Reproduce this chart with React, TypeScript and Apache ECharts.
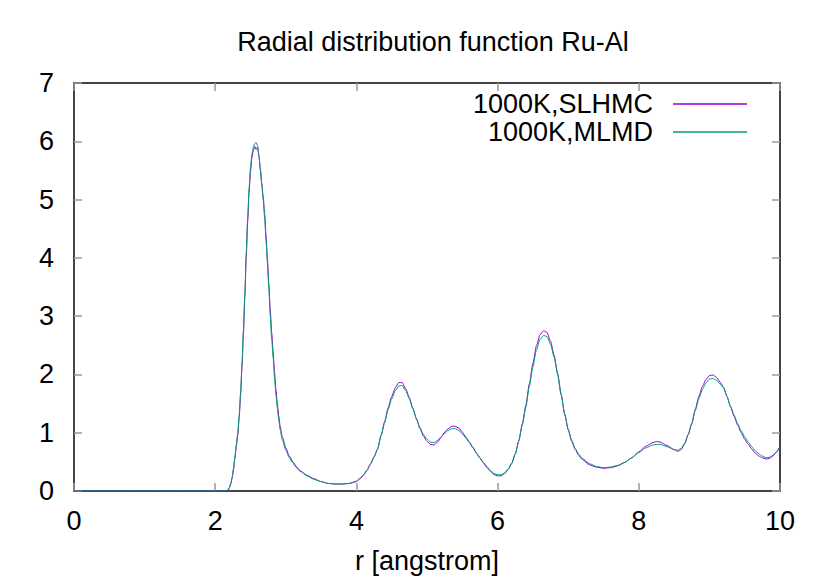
import React, { useEffect, useRef } from "react";
import * as echarts from "echarts";

const titleText = "Radial distribution function Ru-Al";
const xName = "r [angstrom]";
const seriesNames = ["1000K,SLHMC", "1000K,MLMD"];

const rValues = [
  0, 0.5, 1.0, 1.5, 2.0, 2.1, 2.15, 2.18, 2.2, 2.22, 2.24, 2.26, 2.28, 2.3, 2.32, 2.34, 2.36, 2.38,
  2.4, 2.42, 2.44, 2.46, 2.48, 2.5, 2.52, 2.54, 2.56, 2.58, 2.6, 2.62, 2.64, 2.66, 2.68, 2.7,
  2.72, 2.74, 2.76, 2.78, 2.8, 2.82, 2.84, 2.86, 2.88, 2.9, 2.92, 2.95, 3.0, 3.05, 3.1, 3.15,
  3.2, 3.3, 3.4, 3.5, 3.6, 3.7, 3.8, 3.9, 4.0, 4.05, 4.1, 4.15, 4.2, 4.25, 4.3, 4.35, 4.4, 4.45,
  4.5, 4.55, 4.6, 4.65, 4.7, 4.75, 4.8, 4.85, 4.9, 4.95, 5.0, 5.05, 5.1, 5.15, 5.2, 5.25, 5.3,
  5.35, 5.4, 5.45, 5.5, 5.55, 5.6, 5.65, 5.7, 5.75, 5.8, 5.85, 5.9, 5.95, 6.0, 6.05, 6.1, 6.15,
  6.2, 6.25, 6.3, 6.35, 6.4, 6.45, 6.5, 6.55, 6.6, 6.65, 6.7, 6.75, 6.8, 6.85, 6.9, 6.95, 7.0,
  7.05, 7.1, 7.15, 7.2, 7.3, 7.4, 7.5, 7.6, 7.7, 7.8, 7.9, 8.0, 8.1, 8.2, 8.25, 8.3, 8.4, 8.5,
  8.55, 8.6, 8.65, 8.7, 8.75, 8.8, 8.85, 8.9, 8.95, 9.0, 9.05, 9.1, 9.15, 9.2, 9.25, 9.3, 9.35,
  9.4, 9.45, 9.5, 9.55, 9.6, 9.65, 9.7, 9.75, 9.8, 9.85, 9.9, 9.95, 10.0,
];

const gMLMD = [
  0, 0, 0, 0, 0, 0, 0, 0.02, 0.06, 0.13, 0.24, 0.4, 0.6, 0.8, 1.0, 1.3, 1.7, 2.2,
  2.76, 3.4, 4.1, 4.7, 5.2, 5.55, 5.78, 5.9, 5.96, 5.98, 5.92, 5.75, 5.5, 5.25, 5.0, 4.7,
  4.3, 3.9, 3.45, 3.0, 2.62, 2.3, 1.95, 1.65, 1.42, 1.22, 1.05, 0.88, 0.7, 0.57, 0.48, 0.4,
  0.34, 0.26, 0.2, 0.16, 0.13, 0.12, 0.12, 0.13, 0.17, 0.22, 0.28, 0.36, 0.47, 0.59, 0.72, 0.95, 1.17, 1.4,
  1.58, 1.72, 1.8, 1.81, 1.72, 1.58, 1.41, 1.24, 1.09, 0.97, 0.89, 0.84, 0.83, 0.87, 0.93, 0.99, 1.04,
  1.07, 1.07, 1.04, 0.98, 0.91, 0.83, 0.74, 0.65, 0.57, 0.49, 0.42, 0.35, 0.3, 0.28, 0.28, 0.31, 0.38,
  0.48, 0.64, 0.86, 1.13, 1.44, 1.8, 2.13, 2.42, 2.6, 2.67, 2.65, 2.52, 2.3, 2.0, 1.65, 1.32, 1.06,
  0.87, 0.73, 0.63, 0.56, 0.47, 0.42, 0.4, 0.41, 0.44, 0.49, 0.57, 0.66, 0.74, 0.79, 0.8, 0.8, 0.76, 0.71,
  0.7, 0.73, 0.82, 0.97, 1.15, 1.38, 1.58, 1.74, 1.85, 1.92, 1.93, 1.9, 1.84, 1.77, 1.62, 1.45, 1.3,
  1.16, 1.03, 0.93, 0.84, 0.76, 0.69, 0.64, 0.6, 0.57, 0.58, 0.61, 0.67, 0.76,
];

const gSLHMC = [
  0, 0, 0, 0, 0, 0, 0, 0.01, 0.05, 0.12, 0.22, 0.37, 0.57, 0.78, 0.97, 1.26, 1.65, 2.14,
  2.7, 3.33, 4.02, 4.62, 5.12, 5.48, 5.72, 5.84, 5.91, 5.86, 5.9, 5.74, 5.52, 5.28, 5.04, 4.76,
  4.38, 3.98, 3.55, 3.1, 2.72, 2.39, 2.04, 1.74, 1.5, 1.29, 1.11, 0.93, 0.74, 0.6, 0.5, 0.42,
  0.35, 0.27, 0.21, 0.16, 0.13, 0.12, 0.12, 0.13, 0.16, 0.21, 0.27, 0.35, 0.46, 0.58, 0.72, 0.96, 1.19, 1.43,
  1.62, 1.77, 1.86, 1.86, 1.75, 1.6, 1.42, 1.24, 1.07, 0.94, 0.85, 0.8, 0.79, 0.84, 0.92, 1.01, 1.07,
  1.11, 1.11, 1.08, 1.01, 0.93, 0.84, 0.75, 0.65, 0.56, 0.48, 0.4, 0.34, 0.28, 0.26, 0.26, 0.3, 0.37,
  0.47, 0.63, 0.86, 1.15, 1.47, 1.84, 2.19, 2.49, 2.68, 2.75, 2.72, 2.57, 2.33, 2.02, 1.66, 1.32, 1.05,
  0.85, 0.71, 0.61, 0.54, 0.45, 0.41, 0.39, 0.4, 0.43, 0.49, 0.57, 0.67, 0.77, 0.83, 0.85, 0.84, 0.78, 0.71,
  0.68, 0.71, 0.81, 0.97, 1.16, 1.4, 1.62, 1.79, 1.91, 1.98, 1.99, 1.95, 1.87, 1.78, 1.62, 1.44, 1.28,
  1.13, 1.0, 0.89, 0.8, 0.72, 0.65, 0.6, 0.57, 0.55, 0.56, 0.6, 0.67, 0.77,
];

const xTicks = { min: 0, max: 10, interval: 2 };
const yTicks = { min: 0, max: 7, interval: 1 };

const FONT = "'Liberation Sans', Arial, Helvetica, sans-serif";
const FS = 27;

export default function App() {
  const ref = useRef<HTMLDivElement>(null);
  useEffect(() => {
    if (!ref.current) return;
    const chart = echarts.init(ref.current, null, { renderer: "svg" });
    const mk = (g: number[]) => rValues.map((r, i) => [r, g[i]]);
    const mkLine = () => ({ show: true, onZero: false, lineStyle: { color: "#444", width: 2 } });
    const mkTick = () => ({ show: true, inside: true, length: 8, lineStyle: { color: "#999", width: 1.5 } });
    chart.setOption({
      animation: false,
      backgroundColor: "#ffffff",
      textStyle: { fontFamily: FONT },
      title: {
        text: titleText,
        left: 433,
        textAlign: "center",
        top: 28,
        padding: 0,
        textStyle: { fontFamily: FONT, fontSize: FS, fontWeight: "normal", color: "#000" },
      },
      legend: {
        orient: "vertical",
        right: 83,
        top: 90,
        padding: 0,
        itemGap: 0,
        align: "right",
        icon: "rect",
        itemWidth: 74,
        itemHeight: 1.5,
        data: seriesNames,
        textStyle: {
          fontFamily: FONT,
          fontSize: FS,
          color: "#000",
          lineHeight: 28,
          padding: [0, 15, 0, 0],
        },
      },
      grid: { left: 74, right: 50, top: 83, bottom: 90 },
      xAxis: [
        {
          type: "value",
          gridIndex: 0,
          ...xTicks,
          position: "bottom",
          axisLine: mkLine(),
          axisTick: mkTick(),
          splitLine: { show: false },
          axisLabel: { fontFamily: FONT, fontSize: FS, color: "#000", margin: 16 },
          name: xName,
          nameLocation: "middle",
          nameGap: 56,
          nameTextStyle: { fontFamily: FONT, fontSize: FS, color: "#000" },
        },
        {
          type: "value",
          gridIndex: 0,
          ...xTicks,
          position: "top",
          axisLine: mkLine(),
          axisTick: mkTick(),
          splitLine: { show: false },
          axisLabel: { show: false },
        },
      ],
      yAxis: [
        {
          type: "value",
          gridIndex: 0,
          ...yTicks,
          position: "left",
          axisLine: mkLine(),
          axisTick: mkTick(),
          splitLine: { show: false },
          axisLabel: { fontFamily: FONT, fontSize: FS, color: "#000", margin: 20 },
        },
        {
          type: "value",
          gridIndex: 0,
          ...yTicks,
          position: "right",
          axisLine: mkLine(),
          axisTick: mkTick(),
          splitLine: { show: false },
          axisLabel: { show: false },
        },
      ],
      series: [
        {
          name: seriesNames[0],
          type: "line",
          data: mk(gSLHMC),
          showSymbol: false,
          smooth: 0.2,
          smoothMonotone: "x",
          color: "#9400d3",
          lineStyle: { width: 1, color: "#9400d3" },
        },
        {
          name: seriesNames[1],
          type: "line",
          data: mk(gMLMD),
          showSymbol: false,
          smooth: 0.2,
          smoothMonotone: "x",
          color: "#009e73",
          lineStyle: { width: 1, color: "#009e73" },
        },
      ],
    });
    return () => chart.dispose();
  }, []);
  return (
    <div
      ref={ref}
      style={{ position: "absolute", left: 0, top: 0, width: 830, height: 581 }}
    />
  );
}
